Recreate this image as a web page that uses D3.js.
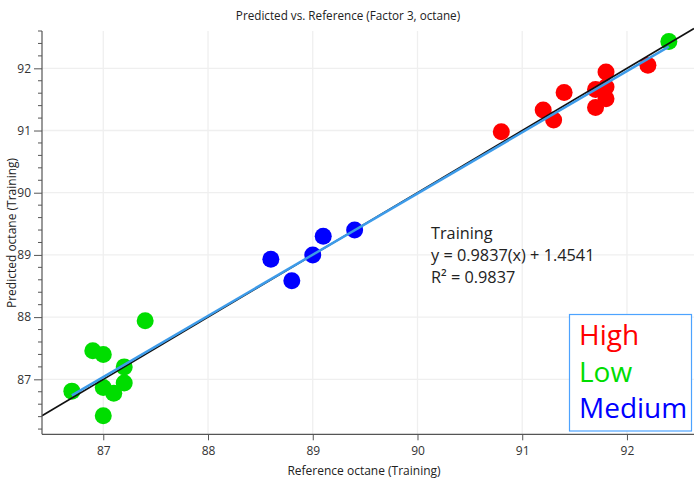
<!DOCTYPE html>
<html>
<head>
<meta charset="utf-8">
<script src="https://cdn.jsdelivr.net/npm/d3@7"></script>
<style>
  html, body { margin: 0; padding: 0; background: #fff; }
  svg { display: block; font-family: "Open Sans", "Noto Sans", sans-serif; }
</style>
</head>
<body>
<svg id="chart" width="694" height="481"></svg>
<script>
// ---- data ----
const title = "Predicted vs. Reference (Factor 3, octane)";
const xLabel = "Reference octane (Training)";
const yLabel = "Predicted octane (Training)";
const groups = ["High", "Low", "Medium"];
const groupColors = ["#ff0000", "#00dd00", "#0000ff"];

const highRef  = [90.8, 91.2, 91.3, 91.4, 91.7, 91.8, 91.8, 91.7, 91.8, 92.2];
const highPred = [90.98, 91.33, 91.17, 91.61, 91.66, 91.70, 91.51, 91.37, 91.94, 92.05];
const lowRef   = [87.4, 86.9, 87.0, 87.2, 86.7, 87.0, 87.1, 87.2, 87.0, 92.4];
const lowPred  = [87.94, 87.46, 87.40, 87.20, 86.81, 86.87, 86.775, 86.94, 86.415, 92.43];
const medRef   = [88.6, 88.8, 89.0, 89.1, 89.4];
const medPred  = [88.93, 88.585, 89.00, 89.30, 89.40];

const xTicks = [87, 88, 89, 90, 91, 92];
const yTicks = [87, 88, 89, 90, 91, 92];
const slope = 0.9837, intercept = 1.4541, r2 = 0.9837;
const annotation = ["Training", "y = 0.9837(x) + 1.4541", "R\u00B2 = 0.9837"];

// ---- build ----
(function () {
const svg = d3.select("#chart");
const pLeft = 42, pRight = 694, pTop = 31, pBottom = 434.3;
const x = d3.scaleLinear().domain([86.415, 92.64]).range([pLeft, pRight]);
const y = d3.scaleLinear().domain([86.116, 92.6]).range([pBottom, pTop]);

// gridlines
svg.append("g").selectAll("line").data(xTicks).join("line")
  .attr("x1", d => x(d)).attr("x2", d => x(d))
  .attr("y1", pTop).attr("y2", pBottom)
  .attr("stroke", "#efefef").attr("stroke-width", 1.3);
svg.append("g").selectAll("line").data(yTicks).join("line")
  .attr("x1", pLeft).attr("x2", pRight)
  .attr("y1", d => y(d)).attr("y2", d => y(d))
  .attr("stroke", "#efefef").attr("stroke-width", 1.3);

// points
const series = [
  {ref: highRef, pred: highPred, color: groupColors[0]},
  {ref: lowRef, pred: lowPred, color: groupColors[1]},
  {ref: medRef, pred: medPred, color: groupColors[2]}
];
const pg = svg.append("g");
series.forEach(s => {
  pg.append("g").selectAll("circle").data(s.ref.map((r, i) => [r, s.pred[i]])).join("circle")
    .attr("cx", d => x(d[0])).attr("cy", d => y(d[1])).attr("r", 8.5)
    .attr("fill", s.color);
});

// identity line (black)
const xd = x.domain();
svg.append("line")
  .attr("x1", x(xd[0])).attr("y1", y(xd[0]))
  .attr("x2", x(xd[1])).attr("y2", y(xd[1]))
  .attr("stroke", "#111").attr("stroke-width", 1.6);

// regression line (blue)
const allRef = highRef.concat(lowRef, medRef);
const rMin = d3.min(allRef), rMax = d3.max(allRef);
svg.append("line")
  .attr("x1", x(rMin)).attr("y1", y(slope * rMin + intercept))
  .attr("x2", x(rMax)).attr("y2", y(slope * rMax + intercept))
  .attr("stroke", "#3d9be9").attr("stroke-width", 2.5);

// axes
const yAxis = d3.axisLeft(y).tickValues(yTicks).tickSize(8).tickPadding(3).tickFormat(d3.format("d"));
const yMinor = d3.range(862, 927, 2).map(v => v / 10).filter(v => !yTicks.includes(v));
const gy = svg.append("g").attr("transform", `translate(${pLeft},0)`).call(yAxis);
gy.select(".domain").remove();
gy.selectAll(".tick line").attr("stroke", "#555");
gy.selectAll(".tick text").attr("font-size", 12).attr("fill", "#333")
  .attr("font-family", "'Open Sans', sans-serif");
svg.append("g").selectAll("line").data(yMinor).join("line")
  .attr("x1", pLeft - 4).attr("x2", pLeft)
  .attr("y1", d => y(d)).attr("y2", d => y(d))
  .attr("stroke", "#555");
svg.append("line").attr("x1", pLeft).attr("x2", pLeft).attr("y1", pTop).attr("y2", pBottom)
  .attr("stroke", "#555").attr("stroke-width", 1.2);

const xAxis = d3.axisBottom(x).tickValues(xTicks).tickSize(6).tickPadding(6).tickFormat(d3.format("d"));
const gx = svg.append("g").attr("transform", `translate(0,${pBottom})`).call(xAxis);
gx.select(".domain").remove();
gx.selectAll(".tick line").attr("stroke", "#555");
gx.selectAll(".tick text").attr("font-size", 12).attr("fill", "#333")
  .attr("font-family", "'Open Sans', sans-serif");
svg.append("line").attr("x1", pLeft).attr("x2", pRight).attr("y1", pBottom).attr("y2", pBottom)
  .attr("stroke", "#555").attr("stroke-width", 1.2);

// title & labels
svg.append("text").attr("x", 348).attr("y", 20).attr("text-anchor", "middle")
  .attr("font-size", 11.7).attr("fill", "#222").text(title);
svg.append("text").attr("x", 364).attr("y", 475).attr("text-anchor", "middle")
  .attr("font-size", 12).attr("fill", "#222").text(xLabel);
svg.append("text").attr("transform", "translate(16,233) rotate(-90)").attr("text-anchor", "middle")
  .attr("font-size", 12).attr("fill", "#222").text(yLabel);

// annotation
const ann = svg.append("text").attr("font-size", 16.3).attr("fill", "#222");
ann.append("tspan").attr("x", 431).attr("y", 239).text(annotation[0]);
ann.append("tspan").attr("x", 431).attr("y", 261).text(annotation[1]);
ann.append("tspan").attr("x", 431).attr("y", 283).text(annotation[2]);

// legend
svg.append("rect").attr("x", 569.5).attr("y", 314.5).attr("width", 122).attr("height", 116.5)
  .attr("fill", "#fff").attr("stroke", "#4da3ff").attr("stroke-width", 1.2);
svg.append("g").selectAll("text").data(groups).join("text")
  .attr("x", 579).attr("y", (d, i) => 345 + i * 36.5)
  .attr("font-size", 28).attr("fill", (d, i) => groupColors[i]).text(d => d);
})();
</script>
</body>
</html>
